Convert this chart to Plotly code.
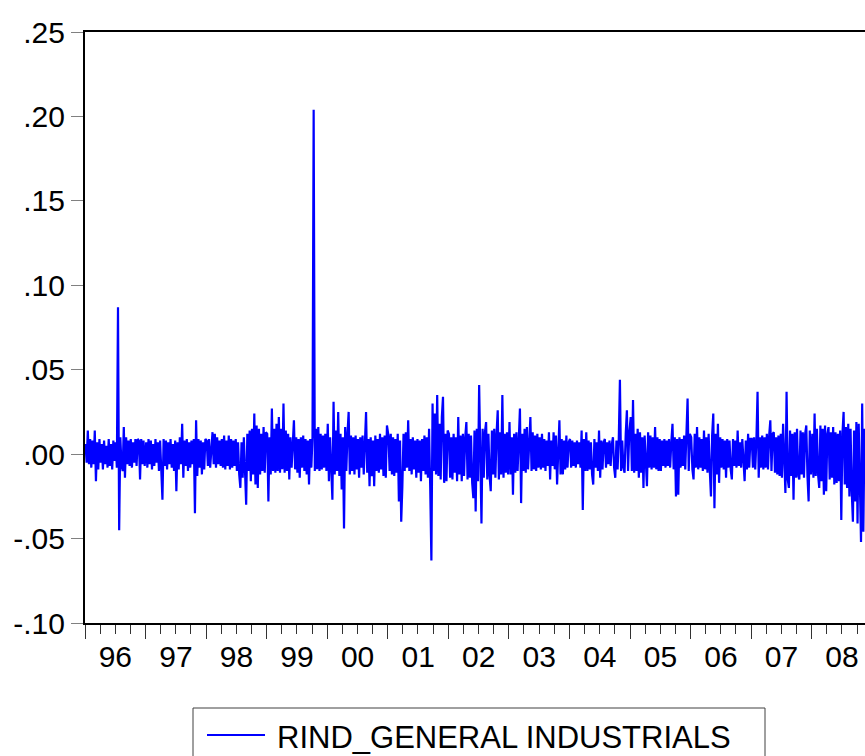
import pandas as pd
import plotly.graph_objects as go

# Weekly readings of the daily return series, one list per calendar year
r1996 = [0.006, -0.005, 0.014, -0.006, 0.009, -0.008, 0.008, -0.006, 0.014, -0.016,
         0.007, -0.009, 0.009, -0.005, 0.006, -0.009, 0.008, -0.006, 0.005, -0.008,
         0.009, -0.007, 0.006, -0.009, 0.008, -0.004, 0.007, -0.008, 0.087, -0.045,
         0.010, -0.006, -0.010, 0.016, -0.014, 0.010, -0.006, 0.008, -0.007, 0.009,
         -0.008, 0.007, -0.005, 0.009, -0.007, 0.009, 0.008, -0.015, 0.009, -0.006,
         0.008, -0.007]
r1997 = [0.007, -0.008, 0.009, -0.006, 0.008, -0.009, 0.006, -0.007, 0.009, -0.005,
         0.007, -0.010, 0.008, -0.006, -0.027, 0.009, -0.007, 0.008, -0.009, 0.007,
         -0.006, 0.009, -0.008, 0.006, -0.010, 0.008, -0.022, 0.007, -0.009, 0.010,
         -0.006, 0.018, -0.014, 0.008, -0.007, 0.009, -0.010, 0.007, -0.008, 0.008,
         -0.006, 0.009, -0.035, 0.020, -0.013, 0.009, -0.008, 0.008, -0.012, 0.007,
         -0.009, 0.009]
r1998 = [0.008, -0.007, 0.009, -0.008, 0.007, 0.013, -0.006, 0.012, -0.008, 0.010,
         -0.006, 0.008, -0.007, 0.009, -0.008, 0.011, -0.009, 0.008, -0.007, 0.011,
         -0.009, 0.009, -0.008, 0.008, -0.007, 0.009, -0.010, 0.007, -0.012, -0.020,
         0.007, -0.014, 0.010, -0.016, -0.030, 0.012, -0.010, 0.014, -0.016, 0.015,
         -0.012, 0.024, -0.018, 0.017, -0.020, 0.015, -0.012, 0.012, -0.010, 0.016,
         -0.011, 0.013]
r1999 = [0.012, -0.028, 0.010, -0.012, 0.027, -0.010, 0.015, -0.011, 0.018, -0.010,
         0.022, -0.011, 0.015, -0.009, 0.030, -0.011, 0.014, -0.010, 0.012, -0.015,
         0.010, -0.008, 0.012, 0.020, -0.009, 0.010, -0.011, 0.009, -0.014, 0.010,
         -0.008, 0.011, -0.010, 0.009, -0.012, 0.008, -0.018, 0.009, -0.008, 0.010,
         0.204, -0.010, 0.015, -0.009, 0.016, -0.010, 0.012, -0.009, 0.011, -0.008,
         0.012, -0.010]
r2000 = [0.018, -0.016, 0.010, -0.012, -0.027, 0.031, -0.012, 0.014, -0.010, 0.025,
         -0.013, 0.012, -0.021, 0.010, -0.044, 0.016, -0.010, 0.012, 0.025, -0.012,
         0.011, -0.010, 0.010, -0.012, 0.011, -0.009, 0.009, -0.014, 0.010, -0.008,
         0.011, -0.012, 0.010, 0.025, -0.011, 0.009, -0.019, 0.010, -0.013, 0.008,
         -0.019, 0.011, -0.010, 0.009, -0.011, 0.012, -0.009, 0.010, -0.013, 0.011,
         -0.014, 0.017]
r2001 = [0.011, -0.010, 0.012, -0.012, 0.010, -0.013, 0.009, -0.011, 0.012, -0.028,
         0.008, -0.040, -0.019, 0.012, -0.010, 0.013, -0.008, 0.020, -0.010, 0.009,
         -0.012, 0.010, -0.009, 0.008, -0.014, 0.009, -0.011, 0.008, -0.016, 0.009,
         -0.010, 0.011, -0.012, 0.010, -0.014, 0.015, -0.020, -0.063, 0.030, -0.010,
         0.024, -0.012, 0.035, -0.013, 0.018, -0.015, 0.022, 0.034, -0.017, 0.012,
         -0.016, 0.014]
r2002 = [0.012, -0.014, 0.010, -0.015, 0.012, -0.011, 0.010, -0.016, 0.022, -0.012,
         0.011, -0.016, 0.012, -0.013, 0.010, 0.019, -0.015, 0.012, -0.014, 0.011,
         -0.017, -0.026, 0.014, -0.034, 0.015, -0.016, 0.041, -0.018, -0.041, 0.015,
         -0.014, 0.013, 0.019, -0.015, 0.012, -0.013, -0.022, 0.014, -0.012, 0.015,
         -0.014, 0.012, 0.026, -0.015, 0.013, -0.012, 0.035, -0.014, 0.012, -0.011,
         0.013, -0.012]
r2003 = [0.019, -0.012, 0.010, -0.024, 0.012, -0.011, 0.013, -0.010, 0.011, 0.027,
         -0.029, 0.012, -0.010, 0.015, -0.011, 0.016, -0.009, 0.012, 0.022, -0.010,
         0.013, -0.009, 0.011, -0.010, 0.012, -0.008, 0.010, -0.009, 0.012, -0.008,
         0.009, -0.010, 0.008, -0.007, 0.013, -0.015, 0.008, -0.007, 0.013, -0.009,
         0.011, -0.018, 0.010, 0.020, -0.012, 0.009, -0.012, 0.008, -0.009, 0.011,
         -0.008, 0.007]
r2004 = [0.009, -0.008, 0.008, -0.007, 0.007, -0.008, 0.008, -0.006, 0.007, -0.008,
         0.014, -0.033, 0.009, -0.010, 0.013, -0.010, 0.008, -0.009, 0.007, -0.012,
         -0.018, 0.009, -0.008, 0.007, -0.010, 0.014, -0.014, 0.008, -0.009, 0.007,
         0.009, -0.008, 0.007, -0.006, 0.008, -0.007, 0.006, 0.010, -0.008, -0.014,
         0.008, -0.009, 0.009, 0.044, -0.010, 0.008, -0.008, -0.011, 0.012, 0.026,
         -0.010, 0.012]
r2005 = [0.022, -0.010, 0.032, -0.011, 0.012, -0.010, 0.015, -0.014, 0.013, -0.011,
         0.010, -0.020, 0.011, -0.009, -0.019, 0.013, -0.008, 0.011, -0.009, 0.010,
         -0.008, 0.016, -0.009, 0.010, -0.010, 0.009, -0.010, 0.008, -0.007, 0.009,
         -0.008, 0.008, -0.007, 0.009, -0.008, 0.007, 0.018, -0.009, 0.010, -0.025,
         0.009, -0.024, 0.010, -0.008, 0.009, -0.007, 0.011, -0.009, 0.012, 0.033,
         -0.010, 0.012]
r2006 = [0.010, -0.009, -0.015, 0.012, -0.008, 0.016, -0.009, 0.010, -0.008, 0.009,
         -0.010, 0.014, -0.009, 0.010, -0.011, 0.012, -0.010, -0.025, 0.011, 0.024,
         -0.032, 0.012, -0.012, 0.018, -0.017, 0.010, -0.008, 0.009, -0.009, 0.008,
         -0.014, 0.009, -0.008, 0.008, -0.009, -0.015, 0.009, -0.007, 0.008, -0.008,
         0.014, -0.007, 0.007, -0.008, 0.009, -0.007, -0.016, 0.008, -0.009, 0.012,
         -0.008, 0.009]
r2007 = [0.009, -0.008, 0.010, -0.009, 0.008, 0.037, -0.014, 0.010, -0.008, 0.011,
         -0.009, 0.010, -0.008, 0.012, -0.009, 0.011, 0.020, -0.010, 0.012, 0.013,
         -0.011, 0.010, -0.012, 0.011, -0.013, 0.012, -0.014, 0.018, -0.012, -0.023,
         0.037, -0.015, -0.020, 0.014, -0.013, 0.012, -0.027, 0.013, -0.014, 0.015,
         -0.013, -0.015, 0.014, -0.012, 0.013, -0.014, 0.012, 0.017, -0.013, -0.028,
         0.014, -0.012]
r2008 = [0.012, -0.014, 0.024, -0.013, 0.015, -0.012, -0.020, 0.017, -0.016, 0.015,
         -0.024, 0.017, -0.022, 0.012, 0.016, -0.015, 0.013, -0.014, 0.016, -0.018,
         0.013, -0.017, 0.012, -0.016, 0.014, -0.039, 0.012, 0.025, -0.018, 0.016,
         -0.020, 0.018, -0.025, 0.015, -0.022, -0.040, 0.014, -0.028, 0.019, -0.041,
         0.018, -0.030, -0.052, 0.030, -0.046, 0.015]

years = list(range(1996, 2009))
yearly = [r1996, r1997, r1998, r1999, r2000, r2001, r2002, r2003,
          r2004, r2005, r2006, r2007, r2008]

y_tickvals = [0.25, 0.20, 0.15, 0.10, 0.05, 0.00, -0.05, -0.10]
y_ticktext = [".25", ".20", ".15", ".10", ".05", ".00", "-.05", "-.10"]
series_name = "RIND_GENERAL INDUSTRIALS"

# Assemble the dated series
dates, values = [], []
for yr, vals in zip(years, yearly):
    dates.extend(pd.date_range(f"{yr}-01-04", periods=len(vals), freq="7D"))
    values.extend(vals)

W, H = 865, 756
L, R, T, B = 85, 0, 32, 133
FONT = "Liberation Sans, Arial, sans-serif"

fig = go.Figure()
fig.add_trace(go.Scatter(x=dates, y=values, mode="lines", name=series_name,
                         line=dict(color="#0000FF", width=2.2),
                         showlegend=False))

fig.update_layout(
    width=W, height=H,
    margin=dict(l=L, r=R, t=T, b=B, pad=0),
    paper_bgcolor="white", plot_bgcolor="white",
    font=dict(family=FONT, color="black"),
)

fig.update_xaxes(
    type="date",
    range=["1996-01-01", "2008-11-17"],
    tick0="1996-01-01", dtick="M12",
    tickformat="%y", ticklabelmode="period",
    ticks="outside", ticklen=14, tickwidth=1, tickcolor="#333333",
    tickfont=dict(size=30, family=FONT, color="black"),
    ticklabelstandoff=-8,
    minor=dict(dtick="M3", tick0="1996-01-01", ticks="outside", ticklen=9,
               tickwidth=1, tickcolor="#333333", showgrid=False),
    showline=True, linecolor="black", linewidth=2, mirror=True,
    showgrid=False, zeroline=False,
)
fig.update_yaxes(
    range=[-0.10, 0.25],
    tickvals=y_tickvals, ticktext=y_ticktext,
    ticks="outside", ticklen=12, tickwidth=1, tickcolor="#808080",
    tickfont=dict(size=30, family=FONT, color="black"),
    ticklabelstandoff=0,
    showline=True, linecolor="black", linewidth=2, mirror=False,
    showgrid=False, zeroline=False,
)

# Legend box below the plot, positioned in pixels and converted to paper units
pw, ph = W - L - R, H - T - B
def px(x):
    return (x - L) / pw
def py(y):
    return (H - B - y) / ph

fig.add_shape(type="rect", xref="paper", yref="paper",
              x0=px(193), x1=px(765), y0=py(780), y1=py(708),
              line=dict(color="#404040", width=1), fillcolor="white")
fig.add_shape(type="line", xref="paper", yref="paper",
              x0=px(207), x1=px(265), y0=py(735), y1=py(735),
              line=dict(color="#0000FF", width=2))
fig.add_annotation(text=series_name, xref="paper", yref="paper",
                   x=px(275), y=py(737), xanchor="left", yanchor="middle",
                   showarrow=False,
                   font=dict(size=31, family=FONT, color="black"))

fig.write_html("out.html")
